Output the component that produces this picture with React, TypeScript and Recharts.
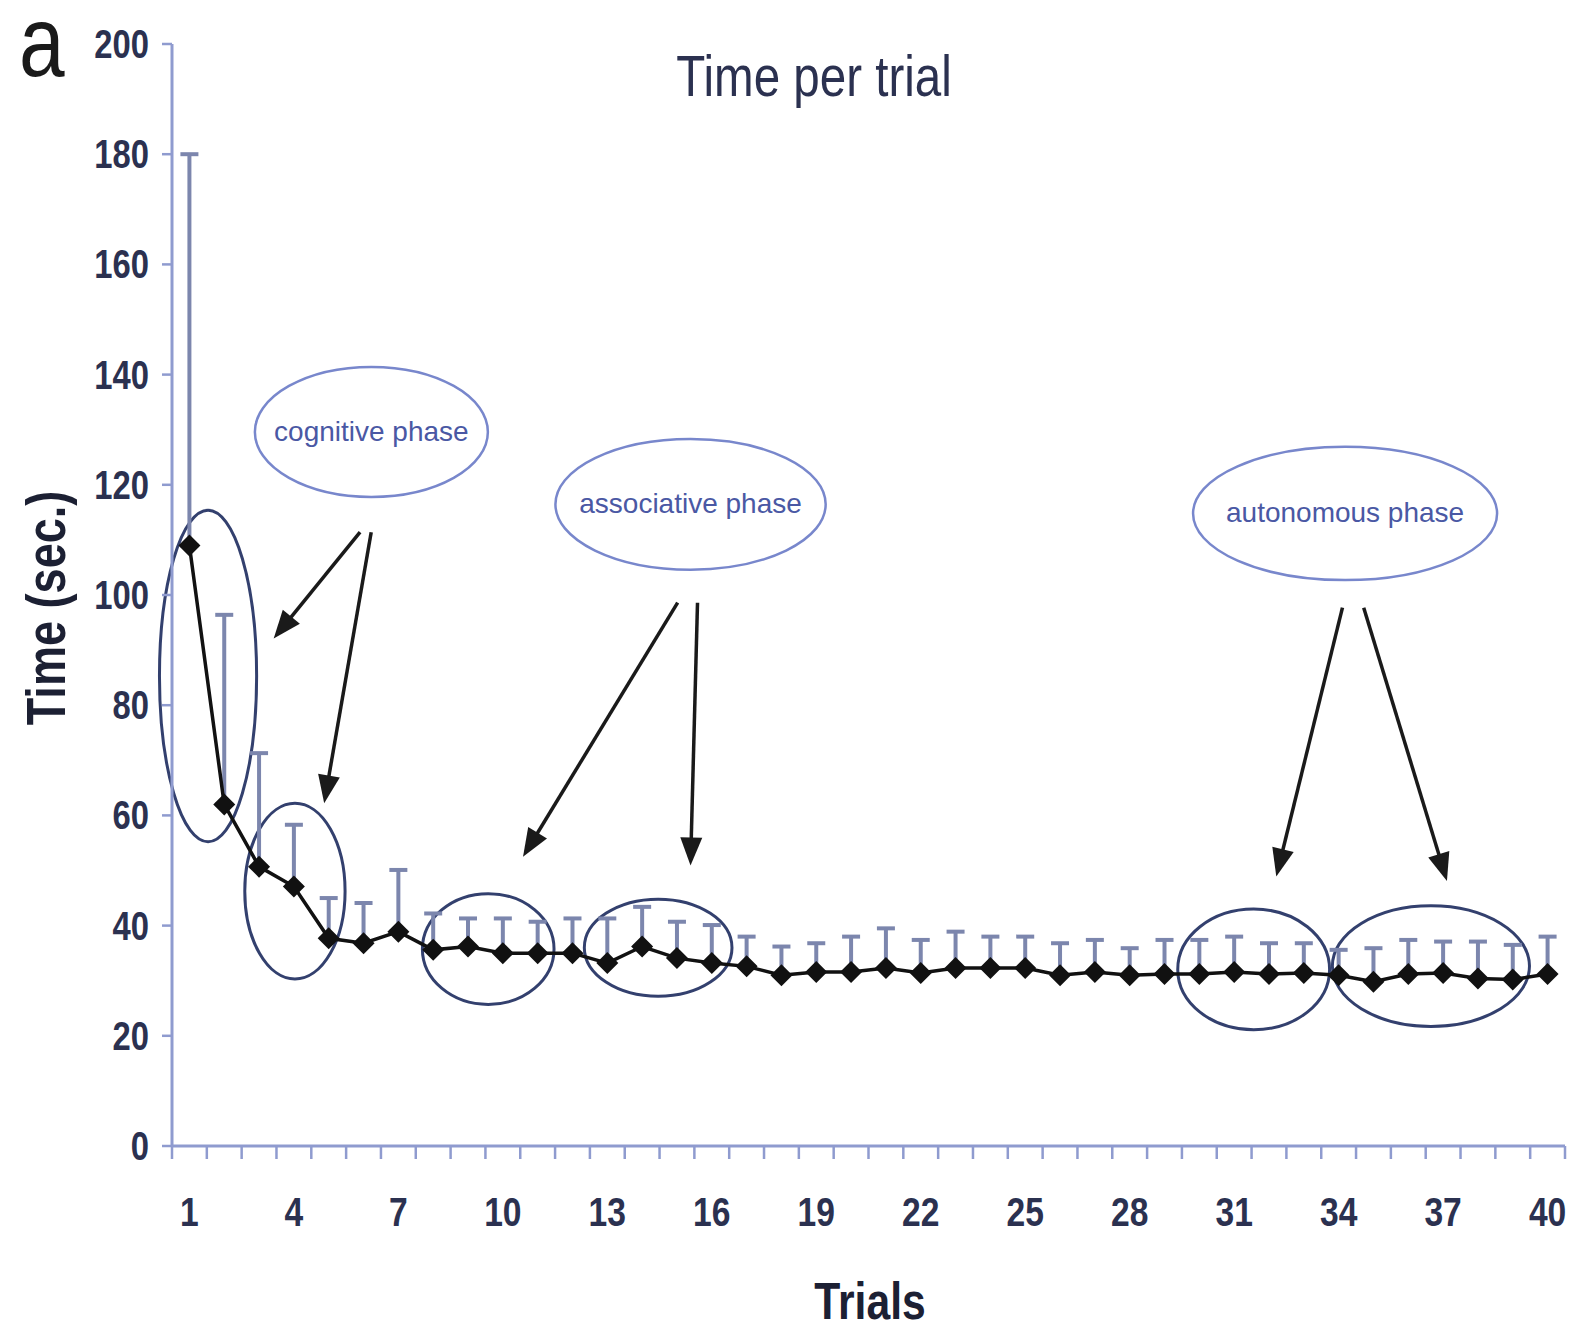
import React from "react";
import {
  ComposedChart,
  Line,
  XAxis,
  YAxis,
  ErrorBar,
  ReferenceArea,
  ReferenceLine,
} from "recharts";

const trials = [
  1, 2, 3, 4, 5, 6, 7, 8, 9, 10, 11, 12, 13, 14, 15, 16, 17, 18, 19, 20,
  21, 22, 23, 24, 25, 26, 27, 28, 29, 30, 31, 32, 33, 34, 35, 36, 37, 38, 39, 40,
];

// mean time per trial (sec.)
const meanTime = [
  109, 62, 50.7, 47.1, 37.7, 36.8, 38.9, 35.6, 36.2, 35.0,
  35.0, 35.0, 33.2, 36.2, 34.1, 33.2, 32.6, 31.0, 31.6, 31.6,
  32.3, 31.4, 32.3, 32.3, 32.3, 31.0, 31.6, 31.0, 31.2, 31.2,
  31.6, 31.2, 31.4, 31.0, 29.8, 31.2, 31.4, 30.4, 30.2, 31.2,
];

// upper error bar length (sec.)
const sdTime = [
  71, 34.4, 20.6, 11.2, 7.3, 7.3, 11.2, 6.6, 5.1, 6.3,
  5.7, 6.3, 8.1, 7.2, 6.6, 6.9, 5.4, 5.2, 5.2, 6.4,
  7.2, 6.0, 6.6, 5.7, 5.7, 5.8, 5.8, 4.9, 6.2, 6.2,
  6.4, 5.6, 5.4, 4.6, 6.1, 6.2, 5.7, 6.7, 6.3, 6.8,
];

const xTickLabels = [1, 4, 7, 10, 13, 16, 19, 22, 25, 28, 31, 34, 37, 40];
const yTicks = [0, 20, 40, 60, 80, 100, 120, 140, 160, 180, 200];

// circled groups of trials (data coordinates)
const groupRings = [
  { x1: 0.14, x2: 2.93, y1: 55.2, y2: 115.4 },
  { x1: 2.59, x2: 5.47, y1: 30.3, y2: 62.2 },
  { x1: 7.69, x2: 11.47, y1: 25.7, y2: 45.8 },
  { x1: 12.34, x2: 16.58, y1: 27.2, y2: 44.8 },
  { x1: 29.38, x2: 33.74, y1: 21.1, y2: 43.0 },
  { x1: 33.82, x2: 39.48, y1: 21.7, y2: 43.6 },
];

const phaseLabels = [
  { text: "cognitive phase", x1: 2.88, x2: 9.57, y1: 117.8, y2: 141.4 },
  { text: "associative phase", x1: 11.51, x2: 19.27, y1: 104.6, y2: 128.3 },
  { text: "autonomous phase", x1: 29.82, x2: 38.55, y1: 102.7, y2: 126.9 },
];

const arrows = [
  { fx: 5.9, fy: 111.4, tx: 3.42, ty: 92.1 },
  { fx: 6.22, fy: 111.4, tx: 4.87, ty: 62.2 },
  { fx: 15.02, fy: 98.6, tx: 10.58, ty: 52.5 },
  { fx: 15.59, fy: 98.6, tx: 15.39, ty: 50.9 },
  { fx: 34.11, fy: 97.7, tx: 32.21, ty: 48.9 },
  { fx: 34.72, fy: 97.7, tx: 37.11, ty: 48.1 },
];

const data = trials.map((t, i) => ({
  trial: t,
  time: meanTime[i],
  err: [0, sdTime[i]],
}));

const xTicks = [...trials.map((t) => t - 0.5), 40.5, ...xTickLabels].sort((a, b) => a - b);

const SANS = "'Liberation Sans', Arial, Helvetica, sans-serif";
const SQUEEZE = 0.82;
const AXIS = "#8f9bcf";
const TEXT = "#2b3150";

const W = 1567;
const H = 1317;

// Arial-like text squeezed horizontally (narrow look of the original)
function NText({ x, y, rotate = 0, children, ...rest }: any) {
  return (
    <text
      x={0}
      y={0}
      transform={`translate(${x} ${y}) rotate(${rotate}) scale(${SQUEEZE} 1)`}
      fontFamily={SANS}
      {...rest}
    >
      {children}
    </text>
  );
}

function TrialTick(props: any) {
  const { x, y, payload } = props;
  const v = payload.value;
  if (v % 1 !== 0) {
    return <line x1={x} x2={x} y1={y} y2={y + 13} stroke={AXIS} strokeWidth={2.5} />;
  }
  return (
    <NText x={x} y={y + 80} textAnchor="middle" fontWeight={700} fontSize={41} fill={TEXT}>
      {v}
    </NText>
  );
}

function TimeTick(props: any) {
  const { x, y, payload } = props;
  return (
    <NText x={x} y={y + 14} textAnchor="end" fontWeight={700} fontSize={40} fill={TEXT}>
      {payload.value}
    </NText>
  );
}

function Diamond(props: any) {
  const { cx, cy } = props;
  if (cx == null || cy == null) return null;
  const r = 11;
  return (
    <polygon
      points={`${cx},${cy - r} ${cx + r},${cy} ${cx},${cy + r} ${cx - r},${cy}`}
      fill="#111"
    />
  );
}

function Arrow(props: any) {
  const { x1, y1, x2, y2 } = props;
  const dx = x2 - x1;
  const dy = y2 - y1;
  const len = Math.sqrt(dx * dx + dy * dy);
  const ux = dx / len;
  const uy = dy / len;
  const hl = 28;
  const hw = 11;
  const bx = x2 - ux * hl;
  const by = y2 - uy * hl;
  return (
    <g>
      <line x1={x1} y1={y1} x2={bx + ux * 4} y2={by + uy * 4} stroke="#1a1a1a" strokeWidth={3.5} />
      <polygon
        points={`${x2},${y2} ${bx - uy * hw},${by + ux * hw} ${bx + uy * hw},${by - ux * hw}`}
        fill="#1a1a1a"
      />
    </g>
  );
}

export default function App() {
  return (
    <div style={{ position: "relative", width: W, height: H }}>
      <ComposedChart
        width={W}
        height={H}
        data={data}
        margin={{ top: 36, right: 10, bottom: 79, left: 64 }}
      >
        <XAxis
          dataKey="trial"
          type="number"
          domain={[0.5, 40.5]}
          ticks={xTicks}
          interval={0}
          tickLine={false}
          tickSize={0}
          tickMargin={0}
          tick={<TrialTick />}
          axisLine={{ stroke: AXIS, strokeWidth: 3 }}
          height={100}
          allowDataOverflow
        />
        <YAxis
          type="number"
          domain={[0, 200]}
          ticks={yTicks}
          interval={0}
          width={100}
          tickSize={10}
          tickMargin={13}
          tickLine={{ stroke: AXIS, strokeWidth: 2.5 }}
          axisLine={{ stroke: AXIS, strokeWidth: 3 }}
          tick={<TimeTick />}
        />
        {groupRings.map((g, i) => (
          <ReferenceArea
            key={`ring${i}`}
            x1={g.x1}
            x2={g.x2}
            y1={g.y1}
            y2={g.y2}
            ifOverflow="visible"
            shape={(p: any) => (
              <ellipse
                cx={p.x + p.width / 2}
                cy={p.y + p.height / 2}
                rx={p.width / 2}
                ry={p.height / 2}
                fill="none"
                stroke="#33406e"
                strokeWidth={3}
              />
            )}
          />
        ))}
        {phaseLabels.map((g) => (
          <ReferenceArea
            key={g.text}
            x1={g.x1}
            x2={g.x2}
            y1={g.y1}
            y2={g.y2}
            ifOverflow="visible"
            shape={(p: any) => (
              <g>
                <ellipse
                  cx={p.x + p.width / 2}
                  cy={p.y + p.height / 2}
                  rx={p.width / 2}
                  ry={p.height / 2}
                  fill="none"
                  stroke="#7887cc"
                  strokeWidth={2.5}
                />
                <text
                  x={p.x + p.width / 2}
                  y={p.y + p.height / 2 + 9}
                  textAnchor="middle"
                  fontFamily={SANS}
                  fontSize={28}
                  fill="#4a58a4"
                >
                  {g.text}
                </text>
              </g>
            )}
          />
        ))}
        {arrows.map((a, i) => (
          <ReferenceLine
            key={`arrow${i}`}
            segment={[
              { x: a.fx, y: a.fy },
              { x: a.tx, y: a.ty },
            ]}
            ifOverflow="visible"
            shape={<Arrow />}
          />
        ))}
        <Line
          dataKey="time"
          type="linear"
          stroke="#111"
          strokeWidth={3.5}
          dot={<Diamond />}
          activeDot={false}
          isAnimationActive={false}
        >
          <ErrorBar
            dataKey="err"
            direction="y"
            width={9}
            stroke="#7c86ad"
            strokeWidth={4}
            isAnimationActive={false}
          />
        </Line>
      </ComposedChart>
      <svg
        width={W}
        height={H}
        style={{ position: "absolute", left: 0, top: 0, pointerEvents: "none", overflow: "visible" }}
      >
        <NText x={11} y={68} fontSize={100} fill="#1a1a1a">
          a
        </NText>
        <NText x={806} y={88} textAnchor="middle" fontSize={58} fill={TEXT}>
          Time per trial
        </NText>
        <NText
          x={57}
          y={600}
          rotate={-90}
          textAnchor="middle"
          fontWeight={700}
          fontSize={55}
          fill="#1c2033"
        >
          Time (sec.)
        </NText>
        <NText
          x={862}
          y={1311}
          textAnchor="middle"
          fontWeight={700}
          fontSize={52}
          fill="#1c2033"
        >
          Trials
        </NText>
      </svg>
    </div>
  );
}
